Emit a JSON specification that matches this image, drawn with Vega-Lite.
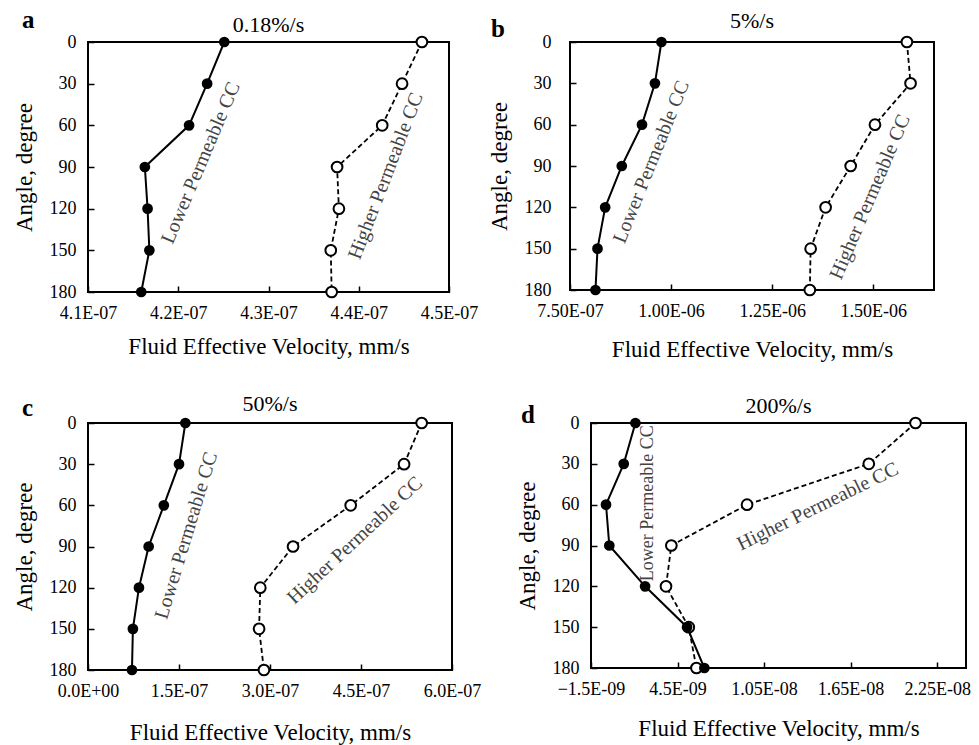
{
  "$schema": "https://vega.github.io/schema/vega-lite/v6.json",
  "background": "white",
  "padding": {"left": 12, "top": 7, "right": 5, "bottom": 1},
  "config": {
    "font": "Liberation Serif",
    "view": {"stroke": "black", "strokeWidth": 2},
    "axis": {
      "grid": false,
      "domain": false,
      "tickColor": "black",
      "tickWidth": 1.5,
      "tickSize": -6,
      "labelColor": "black",
      "labelFont": "Liberation Serif",
      "labelFontSize": 18,
      "labelOverlap": false,
      "labelFlush": false,
      "titleFont": "Liberation Serif",
      "titleFontSize": 23,
      "titleFontWeight": "normal",
      "titleColor": "black"
    },
    "axisX": {"labelPadding": 18, "titlePadding": 13},
    "axisY": {"labelPadding": 18, "titlePadding": 13},
    "title": {"font": "Liberation Serif", "color": "black"},
    "text": {"font": "Liberation Serif"}
  },
  "datasets": {
    "curves": [
      {"panel": "a", "series": "Lower", "angle": 0, "v": 4.251e-7},
      {"panel": "a", "series": "Lower", "angle": 30, "v": 4.232e-7},
      {"panel": "a", "series": "Lower", "angle": 60, "v": 4.212e-7},
      {"panel": "a", "series": "Lower", "angle": 90, "v": 4.163e-7},
      {"panel": "a", "series": "Lower", "angle": 120, "v": 4.166e-7},
      {"panel": "a", "series": "Lower", "angle": 150, "v": 4.168e-7},
      {"panel": "a", "series": "Lower", "angle": 180, "v": 4.159e-7},
      {"panel": "a", "series": "Higher", "angle": 0, "v": 4.470e-7},
      {"panel": "a", "series": "Higher", "angle": 30, "v": 4.448e-7},
      {"panel": "a", "series": "Higher", "angle": 60, "v": 4.426e-7},
      {"panel": "a", "series": "Higher", "angle": 90, "v": 4.376e-7},
      {"panel": "a", "series": "Higher", "angle": 120, "v": 4.378e-7},
      {"panel": "a", "series": "Higher", "angle": 150, "v": 4.369e-7},
      {"panel": "a", "series": "Higher", "angle": 180, "v": 4.370e-7},
      {"panel": "b", "series": "Lower", "angle": 0, "v": 9.76e-7},
      {"panel": "b", "series": "Lower", "angle": 30, "v": 9.60e-7},
      {"panel": "b", "series": "Lower", "angle": 60, "v": 9.28e-7},
      {"panel": "b", "series": "Lower", "angle": 90, "v": 8.78e-7},
      {"panel": "b", "series": "Lower", "angle": 120, "v": 8.37e-7},
      {"panel": "b", "series": "Lower", "angle": 150, "v": 8.18e-7},
      {"panel": "b", "series": "Lower", "angle": 180, "v": 8.13e-7},
      {"panel": "b", "series": "Higher", "angle": 0, "v": 1.583e-6},
      {"panel": "b", "series": "Higher", "angle": 30, "v": 1.592e-6},
      {"panel": "b", "series": "Higher", "angle": 60, "v": 1.504e-6},
      {"panel": "b", "series": "Higher", "angle": 90, "v": 1.444e-6},
      {"panel": "b", "series": "Higher", "angle": 120, "v": 1.382e-6},
      {"panel": "b", "series": "Higher", "angle": 150, "v": 1.345e-6},
      {"panel": "b", "series": "Higher", "angle": 180, "v": 1.343e-6},
      {"panel": "c", "series": "Lower", "angle": 0, "v": 1.605e-7},
      {"panel": "c", "series": "Lower", "angle": 30, "v": 1.50e-7},
      {"panel": "c", "series": "Lower", "angle": 60, "v": 1.25e-7},
      {"panel": "c", "series": "Lower", "angle": 90, "v": 1.00e-7},
      {"panel": "c", "series": "Lower", "angle": 120, "v": 8.4e-8},
      {"panel": "c", "series": "Lower", "angle": 150, "v": 7.4e-8},
      {"panel": "c", "series": "Lower", "angle": 180, "v": 7.25e-8},
      {"panel": "c", "series": "Higher", "angle": 0, "v": 5.50e-7},
      {"panel": "c", "series": "Higher", "angle": 30, "v": 5.21e-7},
      {"panel": "c", "series": "Higher", "angle": 60, "v": 4.33e-7},
      {"panel": "c", "series": "Higher", "angle": 90, "v": 3.38e-7},
      {"panel": "c", "series": "Higher", "angle": 120, "v": 2.84e-7},
      {"panel": "c", "series": "Higher", "angle": 150, "v": 2.82e-7},
      {"panel": "c", "series": "Higher", "angle": 180, "v": 2.90e-7},
      {"panel": "d", "series": "Lower", "angle": 0, "v": 1.58e-9},
      {"panel": "d", "series": "Lower", "angle": 30, "v": 7.7e-10},
      {"panel": "d", "series": "Lower", "angle": 60, "v": -4.6e-10},
      {"panel": "d", "series": "Lower", "angle": 90, "v": -2.3e-10},
      {"panel": "d", "series": "Lower", "angle": 120, "v": 2.25e-9},
      {"panel": "d", "series": "Lower", "angle": 150, "v": 5.16e-9},
      {"panel": "d", "series": "Lower", "angle": 180, "v": 6.36e-9},
      {"panel": "d", "series": "Higher", "angle": 0, "v": 2.10e-8},
      {"panel": "d", "series": "Higher", "angle": 30, "v": 1.776e-8},
      {"panel": "d", "series": "Higher", "angle": 60, "v": 9.32e-9},
      {"panel": "d", "series": "Higher", "angle": 90, "v": 4.07e-9},
      {"panel": "d", "series": "Higher", "angle": 120, "v": 3.7e-9},
      {"panel": "d", "series": "Higher", "angle": 150, "v": 5.28e-9},
      {"panel": "d", "series": "Higher", "angle": 180, "v": 5.81e-9}
    ],
    "notes": [
      {"panel": "a", "series": "Lower", "label": "Lower Permeable CC", "v": 4.225e-7, "angle": 87},
      {"panel": "a", "series": "Higher", "label": "Higher Permeable CC", "v": 4.43e-7, "angle": 96.5},
      {"panel": "b", "series": "Lower", "label": "Lower Permeable CC", "v": 9.51e-7, "angle": 87},
      {"panel": "b", "series": "Higher", "label": "Higher Permeable CC", "v": 1.492e-6, "angle": 112.5},
      {"panel": "c", "series": "Lower", "label": "Lower Permeable CC", "v": 1.62e-7, "angle": 82},
      {"panel": "c", "series": "Higher", "label": "Higher Permeable CC", "v": 4.40e-7, "angle": 85.6},
      {"panel": "d", "series": "Lower", "label": "Lower Permeable CC", "v": 2.43e-9, "angle": 59},
      {"panel": "d", "series": "Higher", "label": "Higher Permeable CC", "v": 1.422e-8, "angle": 61.4}
    ]
  },
  "spacing": 29,
  "vconcat": [
    {
      "spacing": 8,
      "hconcat": [
        {
          "title": {"text": "a", "anchor": "start", "frame": "bounds", "fontSize": 25, "fontWeight": "bold", "offset": -24, "dx": 10, "dy": -4},
          "vconcat": [
            {
              "width": 361, "height": 250,
              "title": {"text": "0.18%/s", "fontSize": 22, "fontWeight": "normal", "offset": -4},
              "encoding": {
                "x": {"field": "v", "type": "quantitative", "scale": {"domain": [4.1e-7, 4.5e-7], "nice": false, "zero": false},
                  "axis": {"values": [4.1e-7, 4.2e-7, 4.3e-7, 4.4e-7, 4.5e-7], "labelExpr": "replace(replace(format(datum.value, '.1e'), 'e-', 'E-0'), 'e+', 'E+0')", "title": "Fluid Effective Velocity, mm/s"}},
                "y": {"field": "angle", "type": "quantitative", "scale": {"domain": [0, 180], "reverse": true, "nice": false},
                  "axis": {"values": [0, 30, 60, 90, 120, 150, 180], "title": "Angle, degree"}}
              },
              "layer": [
                {"data": {"name": "curves"}, "transform": [{"filter": "datum.panel === 'a' && datum.series === 'Lower'"}], "mark": {"type": "line", "color": "black", "strokeWidth": 2}, "encoding": {"order": {"field": "angle", "type": "quantitative"}}},
                {"data": {"name": "curves"}, "transform": [{"filter": "datum.panel === 'a' && datum.series === 'Lower'"}], "mark": {"type": "point", "filled": true, "color": "black", "size": 115, "opacity": 1}},
                {"data": {"name": "curves"}, "transform": [{"filter": "datum.panel === 'a' && datum.series === 'Higher'"}], "mark": {"type": "line", "color": "black", "strokeWidth": 1.8, "strokeDash": [5, 3]}, "encoding": {"order": {"field": "angle", "type": "quantitative"}}},
                {"data": {"name": "curves"}, "transform": [{"filter": "datum.panel === 'a' && datum.series === 'Higher'"}], "mark": {"type": "point", "filled": true, "fill": "white", "stroke": "black", "strokeWidth": 2, "size": 115, "opacity": 1}},
                {"data": {"name": "notes"}, "transform": [{"filter": "datum.panel === 'a' && datum.series === 'Lower'"}], "mark": {"type": "text", "angle": 293, "fontSize": 20, "color": "#444", "font": "Liberation Serif"}, "encoding": {"text": {"field": "label"}}},
                {"data": {"name": "notes"}, "transform": [{"filter": "datum.panel === 'a' && datum.series === 'Higher'"}], "mark": {"type": "text", "angle": 291, "fontSize": 20, "color": "#444", "font": "Liberation Serif"}, "encoding": {"text": {"field": "label"}}}
              ]
            }
          ]
        },
        {
          "title": {"text": "b", "anchor": "start", "frame": "bounds", "fontSize": 25, "fontWeight": "bold", "offset": -24, "dx": 4, "dy": 9},
          "vconcat": [
            {
              "width": 364, "height": 248,
              "title": {"text": "5%/s", "fontSize": 22, "fontWeight": "normal", "offset": 0},
              "encoding": {
                "x": {"field": "v", "type": "quantitative", "scale": {"domain": [7.5e-7, 1.65e-6], "nice": false, "zero": false},
                  "axis": {"values": [7.5e-7, 1.0e-6, 1.25e-6, 1.5e-6], "labelExpr": "replace(replace(format(datum.value, '.2e'), 'e-', 'E-0'), 'e+', 'E+0')", "title": "Fluid Effective Velocity, mm/s", "titlePadding": 18}},
                "y": {"field": "angle", "type": "quantitative", "scale": {"domain": [0, 180], "reverse": true, "nice": false},
                  "axis": {"values": [0, 30, 60, 90, 120, 150, 180], "title": "Angle, degree", "labelPadding": 25}}
              },
              "layer": [
                {"data": {"name": "curves"}, "transform": [{"filter": "datum.panel === 'b' && datum.series === 'Lower'"}], "mark": {"type": "line", "color": "black", "strokeWidth": 2}, "encoding": {"order": {"field": "angle", "type": "quantitative"}}},
                {"data": {"name": "curves"}, "transform": [{"filter": "datum.panel === 'b' && datum.series === 'Lower'"}], "mark": {"type": "point", "filled": true, "color": "black", "size": 115, "opacity": 1}},
                {"data": {"name": "curves"}, "transform": [{"filter": "datum.panel === 'b' && datum.series === 'Higher'"}], "mark": {"type": "line", "color": "black", "strokeWidth": 1.8, "strokeDash": [5, 3]}, "encoding": {"order": {"field": "angle", "type": "quantitative"}}},
                {"data": {"name": "curves"}, "transform": [{"filter": "datum.panel === 'b' && datum.series === 'Higher'"}], "mark": {"type": "point", "filled": true, "fill": "white", "stroke": "black", "strokeWidth": 2, "size": 115, "opacity": 1}},
                {"data": {"name": "notes"}, "transform": [{"filter": "datum.panel === 'b' && datum.series === 'Lower'"}], "mark": {"type": "text", "angle": 292, "fontSize": 20, "color": "#444", "font": "Liberation Serif"}, "encoding": {"text": {"field": "label"}}},
                {"data": {"name": "notes"}, "transform": [{"filter": "datum.panel === 'b' && datum.series === 'Higher'"}], "mark": {"type": "text", "angle": 293, "fontSize": 20, "color": "#444", "font": "Liberation Serif"}, "encoding": {"text": {"field": "label"}}}
              ]
            }
          ]
        }
      ]
    },
    {
      "spacing": 33,
      "hconcat": [
        {
          "title": {"text": "c", "anchor": "start", "frame": "bounds", "fontSize": 25, "fontWeight": "bold", "offset": -24, "dx": 10, "dy": 5},
          "vconcat": [
            {
              "width": 364, "height": 247,
              "title": {"text": "50%/s", "fontSize": 22, "fontWeight": "normal", "offset": -2},
              "encoding": {
                "x": {"field": "v", "type": "quantitative", "scale": {"domain": [0, 6e-7], "nice": false, "zero": false},
                  "axis": {"values": [0, 1.5e-7, 3.0e-7, 4.5e-7, 6.0e-7], "labelExpr": "replace(replace(format(datum.value, '.1e'), 'e-', 'E-0'), 'e+', 'E+0')", "title": "Fluid Effective Velocity, mm/s", "titlePadding": 21}},
                "y": {"field": "angle", "type": "quantitative", "scale": {"domain": [0, 180], "reverse": true, "nice": false},
                  "axis": {"values": [0, 30, 60, 90, 120, 150, 180], "title": "Angle, degree"}}
              },
              "layer": [
                {"data": {"name": "curves"}, "transform": [{"filter": "datum.panel === 'c' && datum.series === 'Lower'"}], "mark": {"type": "line", "color": "black", "strokeWidth": 2}, "encoding": {"order": {"field": "angle", "type": "quantitative"}}},
                {"data": {"name": "curves"}, "transform": [{"filter": "datum.panel === 'c' && datum.series === 'Lower'"}], "mark": {"type": "point", "filled": true, "color": "black", "size": 115, "opacity": 1}},
                {"data": {"name": "curves"}, "transform": [{"filter": "datum.panel === 'c' && datum.series === 'Higher'"}], "mark": {"type": "line", "color": "black", "strokeWidth": 1.8, "strokeDash": [5, 3]}, "encoding": {"order": {"field": "angle", "type": "quantitative"}}},
                {"data": {"name": "curves"}, "transform": [{"filter": "datum.panel === 'c' && datum.series === 'Higher'"}], "mark": {"type": "point", "filled": true, "fill": "white", "stroke": "black", "strokeWidth": 2, "size": 115, "opacity": 1}},
                {"data": {"name": "notes"}, "transform": [{"filter": "datum.panel === 'c' && datum.series === 'Lower'"}], "mark": {"type": "text", "angle": 287, "fontSize": 20, "color": "#444", "font": "Liberation Serif"}, "encoding": {"text": {"field": "label"}}},
                {"data": {"name": "notes"}, "transform": [{"filter": "datum.panel === 'c' && datum.series === 'Higher'"}], "mark": {"type": "text", "angle": 317, "fontSize": 20, "color": "#444", "font": "Liberation Serif"}, "encoding": {"text": {"field": "label"}}}
              ]
            }
          ]
        },
        {
          "title": {"text": "d", "anchor": "start", "frame": "bounds", "fontSize": 25, "fontWeight": "bold", "offset": -24, "dx": 6, "dy": 10},
          "vconcat": [
            {
              "width": 375, "height": 245,
              "title": {"text": "200%/s", "fontSize": 22, "fontWeight": "normal", "offset": -4},
              "encoding": {
                "x": {"field": "v", "type": "quantitative", "scale": {"domain": [-1.5e-9, 2.45e-8], "nice": false, "zero": false},
                  "axis": {"values": [-1.5e-9, 4.5e-9, 1.05e-8, 1.65e-8, 2.25e-8], "labelExpr": "replace(replace(format(datum.value, '~e'), 'e-', 'E-0'), 'e+', 'E+0')", "title": "Fluid Effective Velocity, mm/s", "titlePadding": 19}},
                "y": {"field": "angle", "type": "quantitative", "scale": {"domain": [0, 180], "reverse": true, "nice": false},
                  "axis": {"values": [0, 30, 60, 90, 120, 150, 180], "title": "Angle, degree"}}
              },
              "layer": [
                {"mark": {"type": "rule", "color": "black", "strokeWidth": 1.5}, "encoding": {"x": {"datum": 0}, "y": null}},
                {"data": {"name": "curves"}, "transform": [{"filter": "datum.panel === 'd' && datum.series === 'Lower'"}], "mark": {"type": "line", "color": "black", "strokeWidth": 2}, "encoding": {"order": {"field": "angle", "type": "quantitative"}}},
                {"data": {"name": "curves"}, "transform": [{"filter": "datum.panel === 'd' && datum.series === 'Higher'"}], "mark": {"type": "line", "color": "black", "strokeWidth": 1.8, "strokeDash": [5, 3]}, "encoding": {"order": {"field": "angle", "type": "quantitative"}}},
                {"data": {"name": "curves"}, "transform": [{"filter": "datum.panel === 'd' && datum.series === 'Higher'"}], "mark": {"type": "point", "filled": true, "fill": "white", "stroke": "black", "strokeWidth": 2, "size": 115, "opacity": 1}},
                {"data": {"name": "curves"}, "transform": [{"filter": "datum.panel === 'd' && datum.series === 'Lower'"}], "mark": {"type": "point", "filled": true, "color": "black", "size": 115, "opacity": 1}},
                {"data": {"name": "notes"}, "transform": [{"filter": "datum.panel === 'd' && datum.series === 'Lower'"}], "mark": {"type": "text", "angle": 270, "fontSize": 18, "color": "#444", "font": "Liberation Serif"}, "encoding": {"text": {"field": "label"}}},
                {"data": {"name": "notes"}, "transform": [{"filter": "datum.panel === 'd' && datum.series === 'Higher'"}], "mark": {"type": "text", "angle": 334, "fontSize": 20, "color": "#444", "font": "Liberation Serif"}, "encoding": {"text": {"field": "label"}}}
              ]
            }
          ]
        }
      ]
    }
  ]
}
